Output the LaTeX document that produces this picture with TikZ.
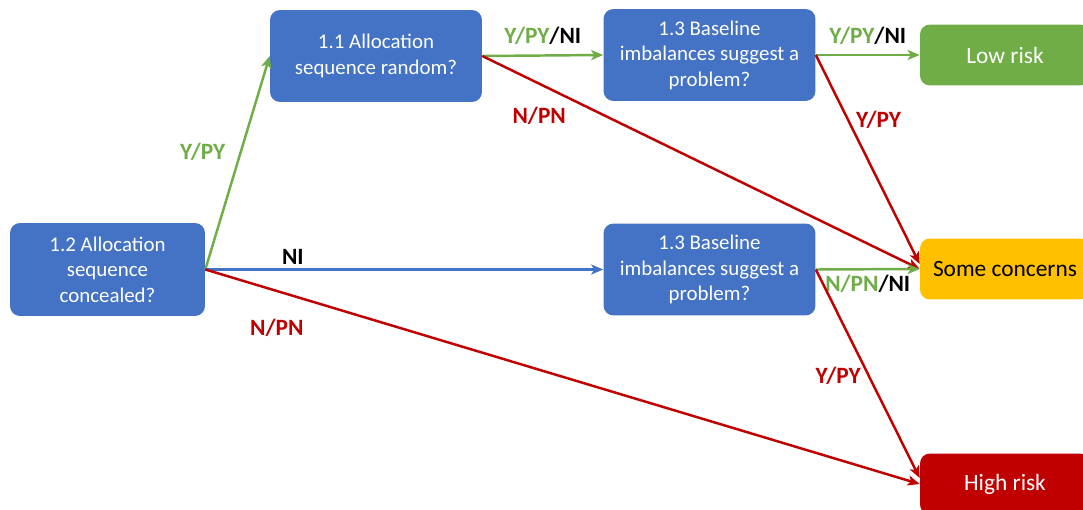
\documentclass[tikz,border=0pt]{standalone}
\usepackage{fontspec}
\setmainfont{Carlito}
\usetikzlibrary{arrows.meta}

\definecolor{qblue}{HTML}{4472C4}
\definecolor{qgreen}{HTML}{70AD47}
\definecolor{qred}{HTML}{C00000}
\definecolor{qorange}{HTML}{FFC000}

\begin{document}
\begin{tikzpicture}[x=0.02cm, y=-0.02cm]
   \tikzstyle{box}=[rounded corners=0.2cm, fill=qblue, text=white, align=center, inner sep=0pt, font=\fontsize{11.9}{14.5}\selectfont]
   \tikzstyle{question}=[box, minimum width=4.24cm, minimum height=1.84cm]
   \tikzstyle{outcome}=[box, minimum width=3.4cm, minimum height=1.22cm, font=\fontsize{13.3}{16}\selectfont]
   \tikzstyle{yes}=[draw=qgreen, line width=1.4pt, -{Stealth[length=2.4mm, width=2mm, inset=0.6mm]}]
   \tikzstyle{no}=[yes, draw=qred]
   \tikzstyle{maybe}=[yes, draw=qblue]
   \tikzstyle{lbl}=[font=\fontsize{13.3}{16}\selectfont\bfseries, inner sep=1pt]

\useasboundingbox (0,0) rectangle (1083,510);

\node[box, minimum width=3.9cm, minimum height=1.86cm] (conceal) at (107.5,269.5) {1.2 Allocation\\sequence\\concealed?};
\node[question] (random) at (376,56) {1.1 Allocation\\sequence random?};
\node[question] (baseA) at (709.5,55) {1.3 Baseline\\imbalances suggest a\\problem?};
\node[question] (baseB) at (709.5,269.5) {1.3 Baseline\\imbalances suggest a\\problem?};
\node[outcome, fill=qgreen] (low) at (1005,55) {Low risk};
\node[outcome, fill=qorange, text=black] (some) at (1005,269) {Some concerns};
\node[outcome, fill=qred] (high) at (1005,484) {High risk};

\draw[yes] (conceal.east) -- (random.west)
    node[lbl, pos=0.55, left=0.25cm, text=qgreen] {Y/PY};
\draw[maybe] (conceal.east) -- (baseB.west)
    node[lbl, pos=0.22, above=0.05cm] {NI};
\draw[no] (conceal.east) -- (high.west)
    node[lbl, pos=0.1, below=0.5cm, text=qred] {N/PN};

\draw[yes] (random.east) -- (baseA.west)
    node[lbl, midway, above=0.15cm] {\textcolor{qgreen}{Y/PY}/NI};
\draw[no] (random.east) -- (some.west)
    node[lbl, pos=0.13, below=0.4cm, text=qred] {N/PN};

\draw[yes] (baseA.east) -- (low.west)
    node[lbl, midway, above=0.15cm] {\textcolor{qgreen}{Y/PY}/NI};
\draw[no] (baseA.east) -- ([yshift=0.1cm]some.west)
    node[lbl, pos=0.31, right=0.1cm, text=qred] {Y/PY};

\draw[yes] (baseB.east) -- (some.west)
    node[lbl, midway, below=0.05cm] {\textcolor{qgreen}{N/PN}/NI};
\draw[no] (baseB.east) -- ([yshift=0.12cm]high.west)
    node[lbl, pos=0.51, left=0.1cm, text=qred] {Y/PY};

\end{tikzpicture}
\end{document}
